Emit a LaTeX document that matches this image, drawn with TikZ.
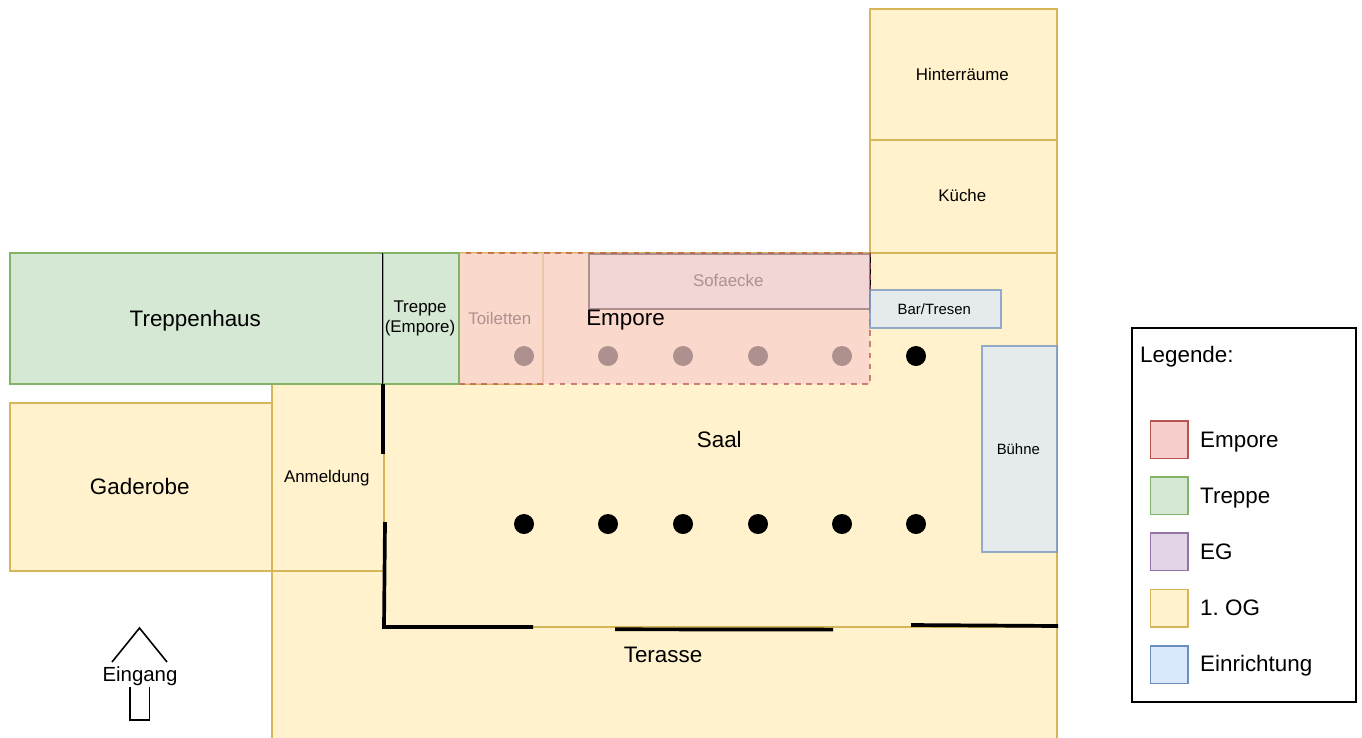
\documentclass[tikz,border=0pt]{standalone}
\usepackage{fontspec}
\setmainfont{Liberation Sans}
\frenchspacing
\definecolor{ogfill}{HTML}{FFF2CC}
\definecolor{ogline}{HTML}{D6B656}
\definecolor{trfill}{HTML}{D5E8D4}
\definecolor{trline}{HTML}{82B366}
\definecolor{emfill}{HTML}{F8CECC}
\definecolor{emline}{HTML}{B85450}
\definecolor{egfill}{HTML}{E1D5E7}
\definecolor{egline}{HTML}{9673A6}
\definecolor{eifill}{HTML}{DAE8FC}
\definecolor{eiline}{HTML}{6C8EBF}
\definecolor{sofafill}{HTML}{E5EBED}
\newcommand{\fbig}{\fontsize{22.4}{26}\selectfont}
\newcommand{\fmid}{\fontsize{16.9}{19.6}\selectfont}
\newcommand{\fsmall}{\fontsize{14.9}{18}\selectfont}
\tikzset{
  room/.style={draw, line width=1.87pt, anchor=north west, inner sep=0pt, outer sep=0pt},
  lblshift/.style={execute at begin node=\hspace*{-2.4pt}},
  ogroom/.style={room, lblshift, fill=ogfill, draw=ogline},
  trroom/.style={room, lblshift, fill=trfill, draw=trline},
  eiroom/.style={room, lblshift, fill=eifill, draw=eiline, opacity=0.7, text opacity=1},
  pillar/.style={circle, fill=black, minimum size=20pt, inner sep=0pt},
  wall/.style={line width=3.7pt, line cap=butt},
  swatch/.style={room, minimum width=37.5pt, minimum height=37.5pt},
  legtext/.style={anchor=west, inner sep=0pt, font=\fbig, text height=16pt, text depth=0pt},
}
\begin{document}
\begin{tikzpicture}[x=1pt,y=-1pt]
  \useasboundingbox (0,0) rectangle (1362,737);

  \node[ogroom, minimum width=785pt, minimum height=200pt] (terasse) at (272,571) {};
  \node[font=\fbig, text depth=0pt] (terassetext) at (663,655) {Terasse};
  \node[ogroom, minimum width=673pt, minimum height=374pt, font=\fbig] (saal) at (384,253) {\raisebox{1pt}{Saal}};
  \node[ogroom, minimum width=187pt, minimum height=131pt, font=\fmid] (hinter) at (870,9) {Hinterräume};
  \node[ogroom, minimum width=187pt, minimum height=113pt, font=\fmid] (kueche) at (870,140) {\raisebox{2.6pt}{Küche}};
  \node[ogroom, minimum width=262pt, minimum height=168pt, font=\fbig] (gaderobe) at (10,403) {\raisebox{1pt}{Gaderobe}};
  \node[ogroom, minimum width=112pt, minimum height=187pt, font=\fmid, text depth=2pt] (anmeldung) at (272,384) {Anmeldung};
  \node[trroom, minimum width=373pt, minimum height=131pt, font=\fbig, text depth=1pt] (treppenhaus) at (10,253) {Treppenhaus};
  \node[ogroom, minimum width=84pt, minimum height=131pt, font=\fmid] (toiletten) at (459,253) {Toiletten};

  \node[pillar] (p1) at (524,356) {};
  \node[pillar] (p2) at (608,356) {};
  \node[pillar] (p3) at (683,356) {};
  \node[pillar] (p4) at (758,356) {};
  \node[pillar] (p5) at (842,356) {};
  \node[pillar] (p6) at (916,356) {};
  \node[pillar] (q1) at (524,524) {};
  \node[pillar] (q2) at (608,524) {};
  \node[pillar] (q3) at (683,524) {};
  \node[pillar] (q4) at (758,524) {};
  \node[pillar] (q5) at (842,524) {};
  \node[pillar] (q6) at (916,524) {};

  \node[room, lblshift, fill=sofafill, draw=black, minimum width=281pt, minimum height=55.3pt, font=\fmid] (sofa) at (589,253.7) {\raisebox{1pt}{Sofaecke}};
  \node[room, fill=emfill, draw=emline, dash pattern=on 5.6pt off 5.6pt, opacity=0.7, minimum width=411pt, minimum height=131pt] (empore) at (459,253) {};
  \node[font=\fbig, text depth=0pt] (emporetext) at (625.5,318) {Empore};
  \node[trroom, execute at begin node=, minimum width=76pt, minimum height=131pt] (treppe) at (383,253) {};
  \node[font=\fmid, align=center, inner sep=0pt] (treppetext) at (420,318.5) {Treppe\\(Empore)};

  \node[eiroom, minimum width=131pt, minimum height=38pt, font=\fsmall] (bar) at (870,290) {Bar/Tresen};
  \node[eiroom, minimum width=75pt, minimum height=206pt, font=\fsmall] (buehne) at (982,346) {Bühne};

  \draw[line width=1.6pt] (382.5,253) -- (382.5,384);
  \draw[wall] (383,384) -- (383,454);
  \draw[wall, line join=miter] (385,522) -- (384,627) -- (533,627);
  \draw[wall] (615,629.3) -- (833,629.6);
  \draw[wall] (911,625) -- (1058,626);

  \draw[line width=1.6pt] (112,662) -- (139.5,628) -- (167,662);
  \draw[line width=1.6pt] (130,687) -- (130,720) -- (149.5,720) -- (149.5,687);
  \node[font=\fontsize{20.4}{24}\selectfont, text depth=0pt] (eingang) at (140,674) {Eingang};

  \node[room, draw=black, minimum width=224pt, minimum height=374pt] (legende) at (1132,328) {};
  \node[legtext] (legtitel) at (1140,354) {Legende:};
  \node[swatch, fill=emfill, draw=emline] (s1) at (1150.5,421) {};
  \node[swatch, fill=trfill, draw=trline] (s2) at (1150.5,477) {};
  \node[swatch, fill=egfill, draw=egline] (s3) at (1150.5,533) {};
  \node[swatch, fill=ogfill, draw=ogline] (s4) at (1150.5,589.5) {};
  \node[swatch, fill=eifill, draw=eiline] (s5) at (1150.5,646) {};
  \node[legtext] (t1) at (1200,439) {Empore};
  \node[legtext] (t2) at (1200,495) {Treppe};
  \node[legtext] (t3) at (1200,551) {EG};
  \node[legtext] (t4) at (1200,607) {1. OG};
  \node[legtext] (t5) at (1200,663) {Einrichtung};
\end{tikzpicture}
\end{document}
